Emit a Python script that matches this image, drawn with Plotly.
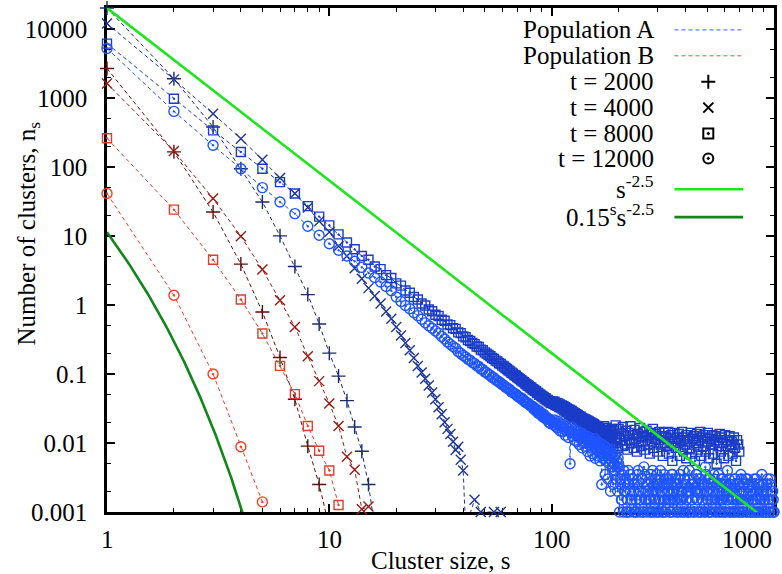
import numpy as np
import plotly.graph_objects as go

# ---------------- data: cluster-size distributions n_s ----------------
# In the sparse tails n_s is stored as a count per 2000 samples.
SAMPLE_NORM = 2000.0

# Population A, t = 2000 (+)
a2000_s = [1, 2, 3, 4, 5, 6, 7, 8, 9, 10, 11, 12, 13, 14, 15, 16]
a2000_n = [20000, 1890, 377, 94, 31, 10, 3.6, 1.41, 0.53, 0.2, 0.093, 0.041,
           0.017, 0.0076, 0.0025, 0.0006]

# Population A, t = 4000 (x)
a4000_s = list(range(1, 41)) + [41, 45, 48, 55, 59]
a4000_n = [11900, 1850, 589, 256, 127, 69, 41, 25.7, 16.3, 11.4,
           7.1, 5.1, 3.4, 2.4, 1.75, 1.35, 1.05, 0.8, 0.63, 0.48,
           0.36, 0.28, 0.22, 0.17, 0.13, 0.105, 0.085, 0.068, 0.054, 0.043,
           0.033, 0.026, 0.020, 0.016, 0.0135, 0.0104, 0.0079, 0.0088, 0.0057, 0.0040,
           0.0006, 0.0015, 0.001, 0.001, 0.001]

# Population A, t = 8000 (squares): s = 1..100
a8000_head_s = list(range(1, 101))
a8000_head_n = [6100, 970, 337, 164, 94, 60, 41, 27, 19, 14.2,
                10.5, 8.0, 6.4, 5.1, 4.5, 3.6, 3.3, 2.7, 2.45, 2.05,
                1.9, 1.62, 1.5, 1.3, 1.2, 1.05, 0.98, 0.86, 0.81, 0.72,
                0.69, 0.61, 0.59, 0.52, 0.51, 0.46, 0.45, 0.40, 0.39, 0.35,
                0.34, 0.31, 0.30, 0.28, 0.27, 0.25, 0.245, 0.225, 0.22, 0.205,
                0.197, 0.188, 0.18, 0.17, 0.165, 0.156, 0.152, 0.143, 0.14, 0.132,
                0.128, 0.122, 0.118, 0.112, 0.109, 0.104, 0.101, 0.096, 0.094, 0.09,
                0.087, 0.084, 0.081, 0.078, 0.076, 0.073, 0.071, 0.068, 0.067, 0.064,
                0.063, 0.060, 0.059, 0.057, 0.056, 0.053, 0.053, 0.050, 0.050, 0.048,
                0.047, 0.046, 0.044, 0.044, 0.042, 0.042, 0.040, 0.040, 0.038, 0.039]
# s = 101..189 (counts)
a8000_mid_s = list(range(101, 190))
a8000_mid_k = [80, 74, 79, 71, 76, 69, 75, 66, 72, 65,
               70, 62, 68, 59, 66, 57, 63, 55, 61, 53,
               60, 51, 58, 49, 56, 47, 54, 46, 52, 44,
               51, 43, 49, 41, 48, 40, 46, 39, 45, 37,
               44, 36, 43, 35, 42, 34, 41, 33, 40, 32,
               39, 31, 38, 30, 37, 29, 36, 28, 35, 27,
               34, 26, 33, 25, 32, 24, 31, 23, 30, 22,
               29, 35, 24, 30, 21, 28, 33, 22, 27, 20,
               31, 24, 29, 19, 26, 32, 21, 27, 18]
# s >= 190 (counts)
a8000_tail_s = [190, 192, 194, 196, 198, 200, 203, 205, 207, 209,
                212, 214, 216, 219, 221, 224, 226, 229, 231, 234,
                236, 239, 242, 244, 247, 250, 253, 255, 258, 261,
                264, 267, 270, 273, 276, 279, 282, 285, 289, 292,
                295, 298, 302, 305, 309, 312, 316, 319, 323, 326,
                330, 334, 337, 341, 345, 349, 353, 357, 361, 365,
                369, 373, 377, 381, 386, 390, 394, 399, 403, 408,
                412, 417, 422, 426, 431, 436, 441, 446, 451, 456,
                461, 466, 471, 477, 482, 488, 493, 499, 504, 510,
                516, 522, 527, 533, 539, 545, 552, 558, 564, 570,
                577, 583, 590, 596, 603, 610, 617, 624, 631, 638,
                645, 652, 660, 667, 675, 682, 690, 698]
a8000_tail_k = [30, 20, 36, 24, 17, 32, 22, 27, 18, 34,
                25, 19, 30, 16, 28, 22, 35, 20, 26, 17,
                31, 23, 15, 27, 21, 33, 18, 25, 29, 16,
                24, 30, 19, 26, 14, 28, 21, 32, 17, 23,
                27, 15, 22, 29, 19, 25, 13, 28, 20, 24,
                18, 29, 14, 23, 26, 11, 21, 28, 17, 24,
                20, 27, 13, 22, 29, 16, 24, 19, 12, 26,
                21, 17, 28, 14, 23, 25, 11, 20, 27, 16,
                22, 29, 13, 24, 18, 26, 15, 21, 28, 12,
                23, 19, 26, 14, 21, 25, 10, 22, 18, 27,
                15, 24, 20, 12, 26, 18, 22, 13, 25, 19,
                21, 14, 24, 17, 11, 22, 19, 15]

# Population A, t = 12000 (circles): s = 1..100
a12000_head_s = list(range(1, 101))
a12000_head_n = [5190, 636, 205, 94, 50, 31, 21, 13.8, 10.2, 7.7,
                 6.2, 5.1, 4.3, 3.5, 2.9, 2.5, 2.15, 1.85, 1.6, 1.3,
                 1.12, 0.98, 0.88, 0.77, 0.7, 0.62, 0.55, 0.5, 0.46, 0.42,
                 0.39, 0.35, 0.32, 0.29, 0.27, 0.25, 0.235, 0.21, 0.2, 0.185,
                 0.176, 0.163, 0.158, 0.146, 0.142, 0.131, 0.128, 0.118, 0.116, 0.107,
                 0.105, 0.098, 0.096, 0.089, 0.088, 0.082, 0.080, 0.076, 0.074, 0.070,
                 0.068, 0.064, 0.063, 0.060, 0.059, 0.055, 0.054, 0.052, 0.051, 0.048,
                 0.047, 0.045, 0.045, 0.042, 0.042, 0.039, 0.039, 0.037, 0.037, 0.035,
                 0.034, 0.034, 0.031, 0.032, 0.029, 0.030, 0.027, 0.029, 0.026, 0.027,
                 0.024, 0.026, 0.023, 0.024, 0.022, 0.023, 0.020, 0.022, 0.019, 0.021]
# s = 101..200 (counts)
a12000_mid_s = list(range(101, 201))
a12000_mid_k = [40, 37, 43, 35, 39, 33, 41, 36, 30, 38,
                34, 29, 37, 32, 26, 35, 30, 33, 24, 31,
                10, 29, 34, 25, 28, 31, 22, 27, 30, 21,
                26, 29, 19, 25, 23, 28, 17, 24, 21, 26,
                18, 23, 20, 25, 15, 22, 19, 24, 13, 21,
                17, 22, 14, 20, 18, 23, 12, 19, 16, 21,
                13, 18, 15, 20, 11, 17, 14, 5, 19, 12,
                16, 13, 18, 7, 15, 11, 17, 14, 6, 12,
                15, 10, 16, 4, 13, 11, 14, 9, 5, 12,
                10, 13, 8, 14, 6, 11, 9, 4, 12, 10]
# s > 200 (counts), two interleaved sets of sizes
a12000_tail_s = [201, 202, 204, 206, 208, 210, 212, 215, 217, 219,
                 221, 224, 226, 229, 231, 234, 236, 239, 241, 244,
                 246, 249, 252, 254, 257, 260, 263, 265, 268, 271,
                 274, 277, 280, 283, 286, 289, 292, 295, 299, 302,
                 305, 308, 312, 315, 319, 322, 326, 329, 333, 336,
                 340, 344, 347, 351, 355, 359, 363, 367, 371, 375,
                 379, 383, 387, 391, 396, 400, 404, 409, 413, 418,
                 422, 427, 431, 436, 441, 446, 450, 455, 460, 465,
                 470, 476, 481, 486, 491, 497, 502, 508, 513, 519,
                 524, 530, 536, 542, 548, 554, 560, 566, 572, 578,
                 585, 591, 597, 604, 610, 617, 624, 630, 637, 644,
                 651, 658, 665, 673, 680, 687, 695, 702, 710, 718,
                 726, 733, 741, 749, 758, 766, 774, 783, 791, 800,
                 808, 817, 826, 835, 844, 853, 862, 872, 881, 891,
                 900, 910, 920, 930, 940, 950, 961, 971, 982, 992,
                 1000]
a12000_tail_k = [9, 2, 5, 3, 7, 2, 4, 6, 2, 3,
                 8, 2, 4, 3, 6, 2, 5, 3, 2, 7,
                 4, 2, 3, 6, 2, 9, 3, 4, 2, 5,
                 3, 2, 7, 4, 2, 3, 6, 2, 5, 3,
                 2, 8, 4, 2, 3, 5, 2, 6, 3, 4,
                 2, 3, 7, 2, 4, 3, 5, 2, 6, 3,
                 2, 4, 3, 8, 2, 5, 3, 2, 4, 6,
                 2, 3, 5, 2, 4, 7, 3, 2, 6, 4,
                 2, 3, 5, 2, 9, 4, 3, 2, 6, 3,
                 2, 4, 7, 3, 2, 5, 4, 2, 3, 6,
                 2, 3, 5, 2, 4, 8, 3, 2, 5, 4,
                 2, 3, 6, 2, 4, 3, 5, 2, 7, 3,
                 2, 4, 3, 6, 2, 3, 5, 2, 4, 3,
                 2, 6, 3, 2, 4, 5, 2, 3, 7, 2,
                 4, 3, 2, 5, 3, 2, 6, 4, 2, 3,
                 2]
a12000_tail2_s = [203, 207, 211, 214, 218, 222, 225, 228, 232, 235,
                  238, 242, 245, 248, 251, 255, 259, 262, 266, 269,
                  272, 276, 279, 282, 285, 288, 291, 294, 297, 300,
                  304, 307, 310, 314, 317, 321, 324, 328, 331, 335,
                  338, 342, 346, 349, 353, 357, 361, 365, 369, 373,
                  377, 381, 385, 389, 394, 398, 402, 406, 411, 416,
                  420, 425, 429, 434, 438, 443, 448, 453, 458, 463,
                  468, 473, 478, 484, 489, 494, 500, 505, 511, 516,
                  522, 527, 533, 539, 545, 551, 557, 563, 569, 575,
                  582, 588, 594, 601, 607, 614, 621, 627, 634, 641,
                  648, 655, 662, 669, 677, 684, 691, 699, 706, 714,
                  722, 730, 737, 745, 754, 762, 770, 779, 787, 796,
                  804, 813, 822, 831, 840, 849, 858, 867, 877, 886,
                  896, 905, 915, 925, 935, 945, 956, 966, 977, 987,
                  997]
a12000_tail2_k = [6, 3, 8, 4, 2, 5, 7, 3, 6, 4,
                  2, 5, 8, 3, 4, 6, 2, 7, 3, 5,
                  4, 6, 3, 2, 8, 5, 3, 4, 7, 2,
                  5, 3, 6, 4, 2, 7, 3, 5, 4, 6,
                  3, 2, 5, 7, 4, 3, 6, 2, 5, 4,
                  7, 3, 4, 2, 6, 5, 3, 4, 2, 8,
                  4, 5, 3, 6, 2, 4, 7, 3, 5, 2,
                  6, 4, 3, 5, 2, 7, 4, 3, 6, 2,
                  5, 3, 4, 6, 2, 5, 3, 7, 4, 2,
                  3, 6, 4, 2, 5, 3, 4, 6, 2, 5,
                  3, 4, 2, 6, 3, 5, 2, 4, 3, 6,
                  2, 4, 5, 3, 2, 6, 3, 4, 2, 5,
                  3, 2, 4, 6, 3, 2, 5, 3, 4, 2,
                  5, 3, 2, 4, 6, 3, 2, 5, 3, 4,
                  2]

# Population B
b2000_s = [1, 2, 3, 4, 5, 6, 7, 8, 9, 10]
b2000_n = [2660, 165, 22.2, 3.9, 0.79, 0.173, 0.043, 0.009, 0.0025, 0.0006]
b4000_s = [1, 2, 3, 4, 5, 6, 7, 8, 9, 10, 11, 12, 13, 14, 15]
b4000_n = [1615, 169, 34.7, 9.9, 3.25, 1.17, 0.48, 0.181, 0.0787, 0.0374,
           0.0176, 0.0063, 0.0041, 0.0011, 0.0012]
b8000_s = [1, 2, 3, 4, 5, 6, 7, 8, 9, 10, 11]
b8000_n = [259, 24, 4.5, 1.2, 0.385, 0.131, 0.051, 0.0176, 0.0077, 0.004, 0.00126]
b12000_s = [1, 2, 3, 4, 5]
b12000_n = [41, 1.38, 0.1, 0.0088, 0.0014]

# reference curves  c * s^-2.5  and  c * 0.15^s * s^-2.5
EXPONENT = -2.5
CUTOFF_BASE = 0.15
POWER_AMP = 2.0e4
CUTOFF_AMP = 75.0

x_tick_labels = ["1", "10", "100", "1000"]
y_tick_vals = [1e-3, 1e-2, 1e-1, 1, 10, 100, 1000, 10000]
y_tick_text = ["0.001", "0.01", "0.1", "1", "10", "100", "1000", "10000"]
legend_labels = ["Population A", "Population B", "t = 2000", "t = 4000", "t = 8000",
                 "t = 12000", "s<sup>-2.5</sup>", "0.15<sup>s</sup>s<sup>-2.5</sup>"]

# assemble full series (counts -> n_s)
a8000_s = a8000_head_s + a8000_mid_s + a8000_tail_s
a8000_n = a8000_head_n + [k / SAMPLE_NORM for k in a8000_mid_k + a8000_tail_k]
a12000_s = a12000_head_s + a12000_mid_s + a12000_tail_s + a12000_tail2_s
a12000_n = a12000_head_n + [k / SAMPLE_NORM for k in
                            a12000_mid_k + a12000_tail_k + a12000_tail2_k]

# ---------------- styling ----------------
W, H = 782, 574
PL, PR, PT, PB = 107, 777, 6, 512
YMIN, YMAX = 1e-3, 2e4
FONT = "Liberation Serif"
FS = 25
DASH = "4px,3px"

C_A2000, C_A4000, C_A8000, C_A12000 = "#1c2a6e", "#1e3592", "#1a3cc8", "#1f55ff"
C_B2000, C_B4000, C_B8000, C_B12000 = "#5c0f0c", "#931d14", "#dc3f2c", "#ff3a22"
C_GREEN, C_DGREEN = "#1ee61e", "#11861a"


def fx(px):
    return (px - PL) / (PR - PL)


def fy(py):
    return (PB - py) / (PB - PT)


fig = go.Figure()

series = [
    (a2000_s, a2000_n, C_A2000, "cross-thin-open", 10),
    (a4000_s, a4000_n, C_A4000, "x-thin-open", 10),
    (a8000_s, a8000_n, C_A8000, "square-open-dot", 9),
    (a12000_s, a12000_n, C_A12000, "circle-open-dot", 10),
    (b2000_s, b2000_n, C_B2000, "cross-thin-open", 10),
    (b4000_s, b4000_n, C_B4000, "x-thin-open", 10),
    (b8000_s, b8000_n, C_B8000, "square-open-dot", 9),
    (b12000_s, b12000_n, C_B12000, "circle-open-dot", 10),
]

for s_vals, n_vals, color, symbol, size in series:
    pts = sorted(zip(s_vals, n_vals))
    xs = [p[0] for p in pts]
    ys = [p[1] for p in pts]
    fig.add_trace(go.Scatter(x=xs, y=ys, mode="lines",
                             line=dict(color=color, width=1, dash=DASH),
                             hoverinfo="skip", showlegend=False))
    shown = [p for p in pts if YMIN <= p[1] <= YMAX]
    fig.add_trace(go.Scatter(x=[p[0] for p in shown], y=[p[1] for p in shown],
                             mode="markers", cliponaxis=False,
                             marker=dict(symbol=symbol, size=size, color=color,
                                         line=dict(color=color, width=1.4)),
                             showlegend=False))

s_curve = np.logspace(0, 3, 400)
fig.add_trace(go.Scatter(x=s_curve, y=POWER_AMP * s_curve ** EXPONENT, mode="lines",
                         line=dict(color=C_GREEN, width=2.6), showlegend=False))
s_cut = np.linspace(1, 4.6, 200)
fig.add_trace(go.Scatter(x=s_cut, y=CUTOFF_AMP * CUTOFF_BASE ** s_cut * s_cut ** EXPONENT,
                         mode="lines", line=dict(color=C_DGREEN, width=2.6), showlegend=False))

# ---------------- key (drawn in pixel units on an overlay axis pair) ----------------
rows = [28, 54, 80, 106, 132, 157, 188, 216]
text_y = [28, 54, 80, 106, 132, 157, 186, 214]
key_styles = [("line", "#3a5ef0", DASH, 1), ("line", "#ff4a3a", DASH, 1),
              ("marker", "cross-thin-open"), ("marker", "x-thin-open"),
              ("marker", "square-open-dot"), ("marker", "circle-open-dot"),
              ("line", C_GREEN, "solid", 2.6), ("line", C_DGREEN, "solid", 2.6)]
annotations = []
for label, ty, row, style in zip(legend_labels, text_y, rows, key_styles):
    annotations.append(dict(text=label, xref="paper", yref="paper", x=fx(658), y=fy(ty),
                            xanchor="right", yanchor="middle", showarrow=False,
                            font=dict(family=FONT, size=FS, color="black")))
    if style[0] == "line":
        fig.add_trace(go.Scatter(x=[677, 746], y=[row, row], mode="lines", xaxis="x2", yaxis="y2",
                                 line=dict(color=style[1], dash=style[2], width=style[3]),
                                 hoverinfo="skip", showlegend=False))
    else:
        fig.add_trace(go.Scatter(x=[711], y=[row], mode="markers", xaxis="x2", yaxis="y2",
                                 cliponaxis=False,
                                 marker=dict(symbol=style[1], size=10, color="black",
                                             line=dict(color="black", width=2)),
                                 hoverinfo="skip", showlegend=False))

# x tick labels
for val, lab in zip([1, 10, 100, 1000], x_tick_labels):
    annotations.append(dict(text=lab, xref="x", yref="paper", x=np.log10(val), y=fy(540),
                            xanchor="right" if val == 1000 else "center", yanchor="middle",
                            showarrow=False, font=dict(family=FONT, size=FS, color="black")))

# axis titles
annotations.append(dict(text="Cluster size, s", xref="paper", yref="paper", x=fx(442), y=fy(561),
                        xanchor="center", yanchor="middle", showarrow=False,
                        font=dict(family=FONT, size=FS, color="black")))
annotations.append(dict(text="Number of clusters, n<sub>s</sub>", xref="paper", yref="paper",
                        x=fx(28), y=fy(232), textangle=-90, xanchor="center", yanchor="middle",
                        showarrow=False, font=dict(family=FONT, size=FS, color="black")))

x_minor = [m * 10 ** d for d in range(3) for m in range(2, 10)]
y_minor = [m * 10.0 ** d for d in range(-3, 4) for m in (2, 5)]

fig.update_layout(
    width=W, height=H,
    margin=dict(l=PL, r=W - PR, t=PT, b=H - PB),
    paper_bgcolor="white", plot_bgcolor="white",
    showlegend=False,
    annotations=annotations,
    xaxis=dict(type="log", range=[0, 3.0], showgrid=False, zeroline=False,
               showline=True, linecolor="black", linewidth=2.5, mirror="allticks",
               ticks="inside", ticklen=8, tickwidth=1.5, tickcolor="black",
               tickvals=[1, 10, 100, 1000], showticklabels=False, layer="below traces",
               minor=dict(tickvals=x_minor, ticks="inside", ticklen=4, tickwidth=1.2,
                          tickcolor="black", showgrid=False)),
    yaxis=dict(type="log", range=[-3, np.log10(YMAX)], showgrid=False, zeroline=False,
               showline=True, linecolor="black", linewidth=2.5, mirror="allticks",
               ticks="inside", ticklen=8, tickwidth=1.5, tickcolor="black",
               tickvals=y_tick_vals, ticktext=y_tick_text, ticklabelstandoff=12,
               tickfont=dict(family=FONT, size=FS, color="black"), layer="below traces",
               minor=dict(tickvals=y_minor, ticks="inside", ticklen=4, tickwidth=1.2,
                          tickcolor="black", showgrid=False)),
    xaxis2=dict(overlaying="x", range=[PL, PR], visible=False),
    yaxis2=dict(overlaying="y", range=[PB, PT], visible=False),
)

fig.write_html("out.html")
